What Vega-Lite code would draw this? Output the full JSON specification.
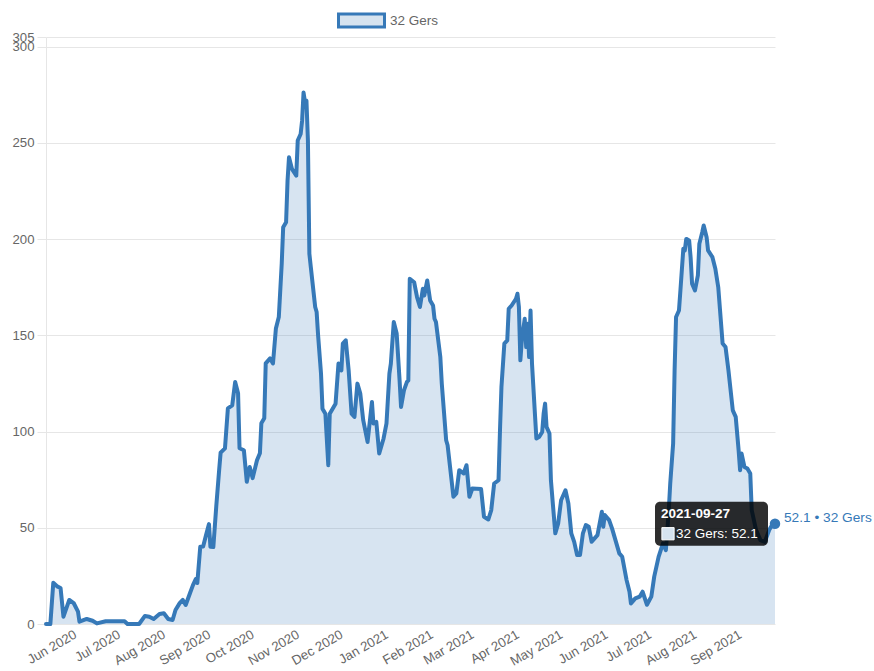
{
  "$schema": "https://vega.github.io/schema/vega-lite/v6.json",
  "width": 729,
  "height": 587,
  "autosize": {"type": "none"},
  "padding": {"left": 46, "top": 37, "right": 99, "bottom": 47},
  "config": {
    "font": "Liberation Sans",
    "view": {"stroke": null},
    "axis": {"labelColor": "#666666", "labelFontSize": 13.2, "title": null}
  },
  "data": {
    "values": [
      {"date": "2020-05-14", "value": 0},
      {"date": "2020-05-17", "value": 0},
      {"date": "2020-05-19", "value": 21.4},
      {"date": "2020-05-22", "value": 19.4},
      {"date": "2020-05-24", "value": 18.7},
      {"date": "2020-05-26", "value": 3.8},
      {"date": "2020-05-30", "value": 12.5},
      {"date": "2020-06-02", "value": 10.9},
      {"date": "2020-06-05", "value": 6.4},
      {"date": "2020-06-06", "value": 1.2},
      {"date": "2020-06-11", "value": 2.6},
      {"date": "2020-06-15", "value": 1.7},
      {"date": "2020-06-18", "value": 0.3},
      {"date": "2020-06-24", "value": 1.4},
      {"date": "2020-07-07", "value": 1.4},
      {"date": "2020-07-09", "value": 0},
      {"date": "2020-07-17", "value": 0},
      {"date": "2020-07-21", "value": 4.2},
      {"date": "2020-07-24", "value": 3.8},
      {"date": "2020-07-27", "value": 2.6},
      {"date": "2020-07-31", "value": 5.2},
      {"date": "2020-08-03", "value": 5.6},
      {"date": "2020-08-06", "value": 2.6},
      {"date": "2020-08-09", "value": 2.1},
      {"date": "2020-08-11", "value": 7.3},
      {"date": "2020-08-14", "value": 11},
      {"date": "2020-08-16", "value": 12.5},
      {"date": "2020-08-18", "value": 9.9},
      {"date": "2020-08-21", "value": 16.1},
      {"date": "2020-08-23", "value": 20.2},
      {"date": "2020-08-25", "value": 23.4},
      {"date": "2020-08-26", "value": 21.3},
      {"date": "2020-08-28", "value": 40.1},
      {"date": "2020-08-30", "value": 40.3},
      {"date": "2020-09-01", "value": 46.2},
      {"date": "2020-09-03", "value": 51.9},
      {"date": "2020-09-04", "value": 40.1},
      {"date": "2020-09-06", "value": 40},
      {"date": "2020-09-08", "value": 61},
      {"date": "2020-09-10", "value": 80},
      {"date": "2020-09-11", "value": 89},
      {"date": "2020-09-14", "value": 91.3},
      {"date": "2020-09-16", "value": 112},
      {"date": "2020-09-19", "value": 113.6},
      {"date": "2020-09-21", "value": 125.7},
      {"date": "2020-09-23", "value": 119.9},
      {"date": "2020-09-24", "value": 91.3},
      {"date": "2020-09-27", "value": 90.3},
      {"date": "2020-09-29", "value": 73.9},
      {"date": "2020-10-01", "value": 81.6},
      {"date": "2020-10-03", "value": 75.8},
      {"date": "2020-10-06", "value": 85.1},
      {"date": "2020-10-08", "value": 88.7},
      {"date": "2020-10-09", "value": 104.3},
      {"date": "2020-10-11", "value": 106.9},
      {"date": "2020-10-12", "value": 135.4},
      {"date": "2020-10-15", "value": 138},
      {"date": "2020-10-17", "value": 135.4},
      {"date": "2020-10-19", "value": 153.6},
      {"date": "2020-10-21", "value": 159.5},
      {"date": "2020-10-23", "value": 187.2},
      {"date": "2020-10-24", "value": 206.2},
      {"date": "2020-10-26", "value": 208.8},
      {"date": "2020-10-27", "value": 230.4},
      {"date": "2020-10-28", "value": 242.5},
      {"date": "2020-10-30", "value": 236.5},
      {"date": "2020-11-02", "value": 233},
      {"date": "2020-11-03", "value": 251.2},
      {"date": "2020-11-05", "value": 254.6},
      {"date": "2020-11-06", "value": 261.5},
      {"date": "2020-11-07", "value": 276.2},
      {"date": "2020-11-08", "value": 271.1},
      {"date": "2020-11-09", "value": 271.9},
      {"date": "2020-11-10", "value": 251.2},
      {"date": "2020-11-11", "value": 192.4},
      {"date": "2020-11-12", "value": 185.4},
      {"date": "2020-11-15", "value": 164.7},
      {"date": "2020-11-16", "value": 162.1},
      {"date": "2020-11-17", "value": 150},
      {"date": "2020-11-19", "value": 130.1},
      {"date": "2020-11-20", "value": 111.9},
      {"date": "2020-11-22", "value": 109.3},
      {"date": "2020-11-24", "value": 82.5},
      {"date": "2020-11-25", "value": 109.3},
      {"date": "2020-11-27", "value": 111.9},
      {"date": "2020-11-29", "value": 114.5},
      {"date": "2020-12-01", "value": 135.3},
      {"date": "2020-12-03", "value": 131.8},
      {"date": "2020-12-04", "value": 145.7},
      {"date": "2020-12-06", "value": 147.4},
      {"date": "2020-12-08", "value": 131.8},
      {"date": "2020-12-10", "value": 109.3},
      {"date": "2020-12-12", "value": 107.6},
      {"date": "2020-12-14", "value": 124.9},
      {"date": "2020-12-16", "value": 119.7},
      {"date": "2020-12-18", "value": 105.9},
      {"date": "2020-12-21", "value": 94.6},
      {"date": "2020-12-24", "value": 115.4},
      {"date": "2020-12-25", "value": 104.2},
      {"date": "2020-12-27", "value": 105},
      {"date": "2020-12-29", "value": 88.6},
      {"date": "2021-01-01", "value": 96.4},
      {"date": "2021-01-03", "value": 104.2},
      {"date": "2021-01-05", "value": 130.1},
      {"date": "2021-01-06", "value": 135.3},
      {"date": "2021-01-08", "value": 156.9},
      {"date": "2021-01-10", "value": 150.9},
      {"date": "2021-01-12", "value": 126.6},
      {"date": "2021-01-13", "value": 112.8},
      {"date": "2021-01-15", "value": 121.4},
      {"date": "2021-01-17", "value": 125.7},
      {"date": "2021-01-18", "value": 126.6},
      {"date": "2021-01-19", "value": 179.4},
      {"date": "2021-01-22", "value": 177.6},
      {"date": "2021-01-24", "value": 169.8},
      {"date": "2021-01-26", "value": 164.7},
      {"date": "2021-01-28", "value": 174.2},
      {"date": "2021-01-29", "value": 170.7},
      {"date": "2021-01-31", "value": 178.5},
      {"date": "2021-02-02", "value": 168.1},
      {"date": "2021-02-04", "value": 165.5},
      {"date": "2021-02-05", "value": 158.6},
      {"date": "2021-02-06", "value": 156.9},
      {"date": "2021-02-09", "value": 138.7},
      {"date": "2021-02-10", "value": 124.9},
      {"date": "2021-02-13", "value": 95.5},
      {"date": "2021-02-14", "value": 92.9},
      {"date": "2021-02-18", "value": 66.1},
      {"date": "2021-02-20", "value": 67.8},
      {"date": "2021-02-22", "value": 79.9},
      {"date": "2021-02-25", "value": 78.2},
      {"date": "2021-02-27", "value": 82.5},
      {"date": "2021-03-01", "value": 66.1},
      {"date": "2021-03-03", "value": 70.4},
      {"date": "2021-03-09", "value": 70.2},
      {"date": "2021-03-11", "value": 55.7},
      {"date": "2021-03-14", "value": 54.3},
      {"date": "2021-03-16", "value": 59.2},
      {"date": "2021-03-18", "value": 73},
      {"date": "2021-03-21", "value": 74.7},
      {"date": "2021-03-22", "value": 100.7},
      {"date": "2021-03-23", "value": 123.1},
      {"date": "2021-03-25", "value": 145.7},
      {"date": "2021-03-27", "value": 147.4},
      {"date": "2021-03-28", "value": 163.8},
      {"date": "2021-03-30", "value": 165.5},
      {"date": "2021-04-02", "value": 169},
      {"date": "2021-04-03", "value": 171.6},
      {"date": "2021-04-04", "value": 164.7},
      {"date": "2021-04-05", "value": 137},
      {"date": "2021-04-06", "value": 147.4},
      {"date": "2021-04-08", "value": 158.6},
      {"date": "2021-04-09", "value": 143.9},
      {"date": "2021-04-10", "value": 156},
      {"date": "2021-04-11", "value": 138.7},
      {"date": "2021-04-12", "value": 162.9},
      {"date": "2021-04-13", "value": 135.3},
      {"date": "2021-04-15", "value": 109.3},
      {"date": "2021-04-16", "value": 96.4},
      {"date": "2021-04-18", "value": 97.3},
      {"date": "2021-04-20", "value": 99.8},
      {"date": "2021-04-21", "value": 109.3},
      {"date": "2021-04-22", "value": 114.5},
      {"date": "2021-04-23", "value": 102.4},
      {"date": "2021-04-25", "value": 99},
      {"date": "2021-04-26", "value": 74.7},
      {"date": "2021-04-29", "value": 47.1},
      {"date": "2021-05-01", "value": 52.3},
      {"date": "2021-05-03", "value": 64.3},
      {"date": "2021-05-06", "value": 69.5},
      {"date": "2021-05-08", "value": 62.6},
      {"date": "2021-05-10", "value": 47.1},
      {"date": "2021-05-12", "value": 42.7},
      {"date": "2021-05-14", "value": 35.8},
      {"date": "2021-05-16", "value": 35.8},
      {"date": "2021-05-18", "value": 47.1},
      {"date": "2021-05-20", "value": 51.4},
      {"date": "2021-05-22", "value": 50.5},
      {"date": "2021-05-24", "value": 42.7},
      {"date": "2021-05-26", "value": 44.5},
      {"date": "2021-05-28", "value": 46.2},
      {"date": "2021-05-31", "value": 58.3},
      {"date": "2021-06-01", "value": 50.5},
      {"date": "2021-06-02", "value": 56.6},
      {"date": "2021-06-05", "value": 54},
      {"date": "2021-06-07", "value": 49.7},
      {"date": "2021-06-10", "value": 41.9},
      {"date": "2021-06-12", "value": 36.7},
      {"date": "2021-06-14", "value": 34.9},
      {"date": "2021-06-17", "value": 22.8},
      {"date": "2021-06-19", "value": 16.8},
      {"date": "2021-06-20", "value": 10.7},
      {"date": "2021-06-23", "value": 13.3},
      {"date": "2021-06-26", "value": 14.2},
      {"date": "2021-06-28", "value": 16.8},
      {"date": "2021-07-01", "value": 10},
      {"date": "2021-07-04", "value": 14.2},
      {"date": "2021-07-06", "value": 24.6},
      {"date": "2021-07-09", "value": 34.9},
      {"date": "2021-07-12", "value": 41.9},
      {"date": "2021-07-14", "value": 38.4},
      {"date": "2021-07-16", "value": 59.2},
      {"date": "2021-07-17", "value": 73},
      {"date": "2021-07-19", "value": 93.8},
      {"date": "2021-07-20", "value": 131.8},
      {"date": "2021-07-21", "value": 159.5},
      {"date": "2021-07-23", "value": 162.9},
      {"date": "2021-07-24", "value": 173.3},
      {"date": "2021-07-26", "value": 195},
      {"date": "2021-07-27", "value": 194.1},
      {"date": "2021-07-28", "value": 200.1},
      {"date": "2021-07-30", "value": 199.3},
      {"date": "2021-07-31", "value": 190.6},
      {"date": "2021-08-01", "value": 176.8},
      {"date": "2021-08-03", "value": 173.3},
      {"date": "2021-08-05", "value": 181.1},
      {"date": "2021-08-06", "value": 197.5},
      {"date": "2021-08-08", "value": 203.6},
      {"date": "2021-08-09", "value": 207.1},
      {"date": "2021-08-11", "value": 201},
      {"date": "2021-08-12", "value": 194.1},
      {"date": "2021-08-15", "value": 190.6},
      {"date": "2021-08-17", "value": 184.6},
      {"date": "2021-08-19", "value": 175},
      {"date": "2021-08-22", "value": 145.7},
      {"date": "2021-08-24", "value": 143.9},
      {"date": "2021-08-26", "value": 131.8},
      {"date": "2021-08-29", "value": 111},
      {"date": "2021-08-31", "value": 107.6},
      {"date": "2021-09-02", "value": 90.3},
      {"date": "2021-09-03", "value": 79.9},
      {"date": "2021-09-04", "value": 88.6},
      {"date": "2021-09-06", "value": 81.6},
      {"date": "2021-09-08", "value": 80.8},
      {"date": "2021-09-10", "value": 78.2},
      {"date": "2021-09-11", "value": 59.2},
      {"date": "2021-09-14", "value": 48.8},
      {"date": "2021-09-17", "value": 43.6},
      {"date": "2021-09-20", "value": 42.7},
      {"date": "2021-09-23", "value": 48.8},
      {"date": "2021-09-25", "value": 51.4},
      {"date": "2021-09-27", "value": 52.1}
    ]
  },
  "encoding": {
    "x": {
      "field": "date",
      "type": "temporal",
      "scale": {"type": "utc", "domain": ["2020-05-14", "2021-09-27"], "nice": false},
      "axis": {
        "format": "%b %Y",
        "tickCount": {"interval": "month", "step": 1},
        "labelAngle": -30,
        "labelAlign": "right",
        "labelBaseline": "top",
        "labelPadding": 4,
        "labelDx": -1,
        "labelOverlap": false,
        "domain": false,
        "ticks": false,
        "grid": false
      }
    },
    "y": {
      "field": "value",
      "type": "quantitative",
      "scale": {"domain": [0, 305], "nice": false, "zero": true},
      "axis": {
        "values": [0, 50, 100, 150, 200, 250, 300, 305],
        "labelOverlap": false,
        "grid": true,
        "gridColor": "#e6e6e6",
        "domain": true,
        "domainColor": "#e6e6e6",
        "ticks": true,
        "tickColor": "#e6e6e6",
        "tickSize": 9,
        "labelPadding": 3
      }
    }
  },
  "layer": [
    {
      "mark": {"type": "area", "color": "#3679b8", "fillOpacity": 0.2}
    },
    {
      "mark": {"type": "line", "strokeWidth": 4, "strokeJoin": "round", "strokeCap": "round"},
      "encoding": {
        "color": {
          "datum": "32 Gers",
          "scale": {"range": ["#3679b8"]},
          "legend": {
            "title": null,
            "orient": "none",
            "legendX": 291,
            "legendY": -41,
            "symbolType": "M-1,-0.28H1V0.28H-1Z",
            "symbolSize": 2116,
            "symbolStrokeWidth": 3,
            "symbolFillColor": "#d6e3ef",
            "labelFontSize": 13.5,
            "labelColor": "#666666",
            "labelOffset": 4,
            "encode": {
              "symbols": {
                "update": {
                  "fill": {"value": "#d6e3ef"},
                  "stroke": {"value": "#3679b8"},
                  "strokeWidth": {"value": 3},
                  "opacity": {"value": 1}
                }
              }
            }
          }
        }
      }
    },
    {
      "data": {"values": [{"date": "2021-09-27", "value": 52.1, "label": "52.1 • 32 Gers", "head": "2021-09-27", "body": "32 Gers: 52.1"}]},
      "layer": [
        {
          "mark": {"type": "rect", "color": "#000000", "opacity": 0.82, "cornerRadius": 5, "xOffset": -120, "x2Offset": -7, "yOffset": -22, "y2Offset": 22},
          "encoding": {"x2": {"field": "date"}, "y2": {"field": "value"}}
        },
        {
          "mark": {"type": "point", "shape": "circle", "filled": true, "size": 110, "color": "#3679b8", "opacity": 1}
        },
        {
          "mark": {"type": "text", "align": "left", "baseline": "middle", "dx": 9, "dy": -6, "fontSize": 13.7, "color": "#3679b8"},
          "encoding": {"text": {"field": "label"}}
        },
        {
          "mark": {"type": "text", "align": "left", "baseline": "middle", "dx": -114, "dy": -10, "fontSize": 13.5, "fontWeight": "bold", "color": "#ffffff"},
          "encoding": {"text": {"field": "head"}}
        },
        {
          "mark": {"type": "point", "shape": "square", "filled": true, "size": 150, "color": "#d6e3ef", "stroke": "#ffffff", "strokeWidth": 1, "opacity": 1, "xOffset": -107, "yOffset": 10},
          "encoding": {}
        },
        {
          "mark": {"type": "text", "align": "left", "baseline": "middle", "dx": -99, "dy": 10, "fontSize": 13.5, "color": "#ffffff"},
          "encoding": {"text": {"field": "body"}}
        }
      ]
    }
  ]
}
